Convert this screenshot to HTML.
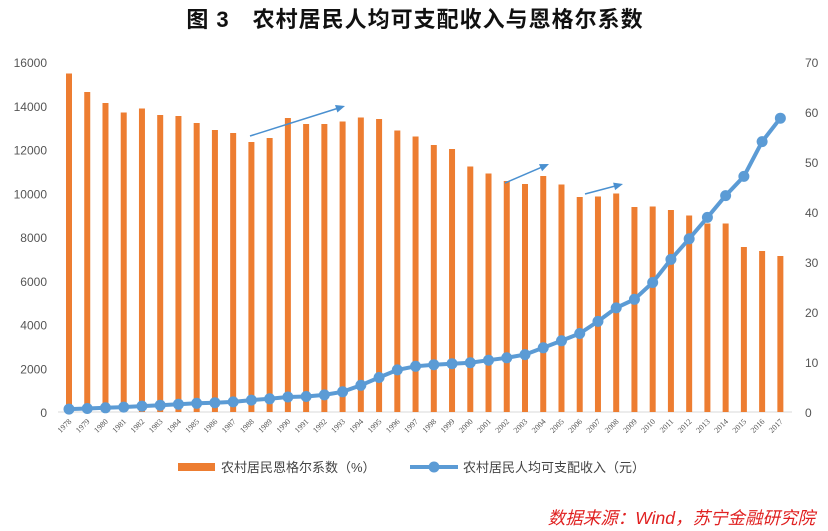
<!DOCTYPE html>
<html><head><meta charset="utf-8"><style>
body{margin:0;background:#fff;width:828px;height:531px;overflow:hidden}
svg{display:block}
</style></head><body>
<svg id="c" width="828" height="531" xmlns="http://www.w3.org/2000/svg" font-family="Liberation Sans, Noto Sans CJK SC, sans-serif">
<text x="415" y="27" text-anchor="middle" font-size="22" font-weight="bold" font-family="Liberation Sans, Noto Sans CJK SC, sans-serif" fill="#111" letter-spacing="1">图 3　农村居民人均可支配收入与恩格尔系数</text>
<g id="g"></g>
<rect x="178" y="463" width="37" height="8" fill="#ED7D31"/>
<text x="221" y="472" font-size="13" fill="#444">农村居民恩格尔系数（%）</text>
<line x1="410" y1="467" x2="458" y2="467" stroke="#5B9BD5" stroke-width="4"/>
<circle cx="434" cy="467" r="5.5" fill="#5B9BD5"/>
<text x="463" y="472" font-size="13" fill="#444">农村居民人均可支配收入（元）</text>
<text x="815" y="524" text-anchor="end" font-size="17.5" font-style="italic" fill="#E02020">数据来源：Wind，苏宁金融研究院</text>
</svg>
<script>
var e=[67.7,64.0,61.8,59.9,60.7,59.4,59.2,57.8,56.4,55.8,54.0,54.8,58.8,57.6,57.6,58.1,58.9,58.6,56.3,55.1,53.4,52.6,49.1,47.7,46.2,45.6,47.2,45.5,43.0,43.1,43.7,41.0,41.1,40.4,39.3,37.7,37.7,33.0,32.2,31.2];
var inc=[134,160,191,223,270,310,355,398,424,463,545,602,686,709,784,922,1221,1578,1926,2090,2162,2210,2253,2366,2476,2622,2936,3255,3587,4140,4761,5153,5919,6977,7917,8896,9892,10772,12363,13432];
var y0=412,s=18.24,x0=69,h='';
h+='<line x1="58" y1="412" x2="792" y2="412" stroke="#d9d9d9"/>';
for(var i=0;i<=8;i++){var y=y0-i*43.75;h+='<text x="47" y="'+(y+5)+'" text-anchor="end" font-size="12" fill="#555">'+(i*2000)+'</text>';}
for(var i=0;i<=7;i++){var y=y0-i*50;h+='<text x="805" y="'+(y+5)+'" font-size="12" fill="#555">'+(i*10)+'</text>';}
var p=[];
for(var i=0;i<40;i++){var x=x0+i*s;var t=y0-e[i]*5;
h+='<rect x="'+(x-3)+'" y="'+t+'" width="6" height="'+(y0-t)+'" fill="#ED7D31"/>';
h+='<text transform="translate('+(x+3)+',422) rotate(-45)" text-anchor="end" font-size="8" font-family="Liberation Serif,serif" fill="#555">'+(1978+i)+'</text>';
p.push(x+','+(y0-inc[i]*0.021875).toFixed(1));}
h+='<polyline points="'+p.join(' ')+'" fill="none" stroke="#5B9BD5" stroke-width="4"/>';
p.forEach(function(q){var a=q.split(',');h+='<circle cx="'+a[0]+'" cy="'+a[1]+'" r="5.5" fill="#5B9BD5"/>';});
function ar(x1,y1,x2,y2){var a=Math.atan2(y2-y1,x2-x1),L=10;
h+='<line x1="'+x1+'" y1="'+y1+'" x2="'+(x2-7*Math.cos(a))+'" y2="'+(y2-7*Math.sin(a))+'" stroke="#4A90D0" stroke-width="1.5"/>';
h+='<polygon points="'+x2+','+y2+' '+(x2-L*Math.cos(a-0.4))+','+(y2-L*Math.sin(a-0.4))+' '+(x2-L*Math.cos(a+0.4))+','+(y2-L*Math.sin(a+0.4))+'" fill="#4A90D0"/>';}
ar(250,136,345,106);ar(505,183,549,164);ar(585,194,623,184);
document.getElementById('g').innerHTML=h;
</script>
</body></html>
